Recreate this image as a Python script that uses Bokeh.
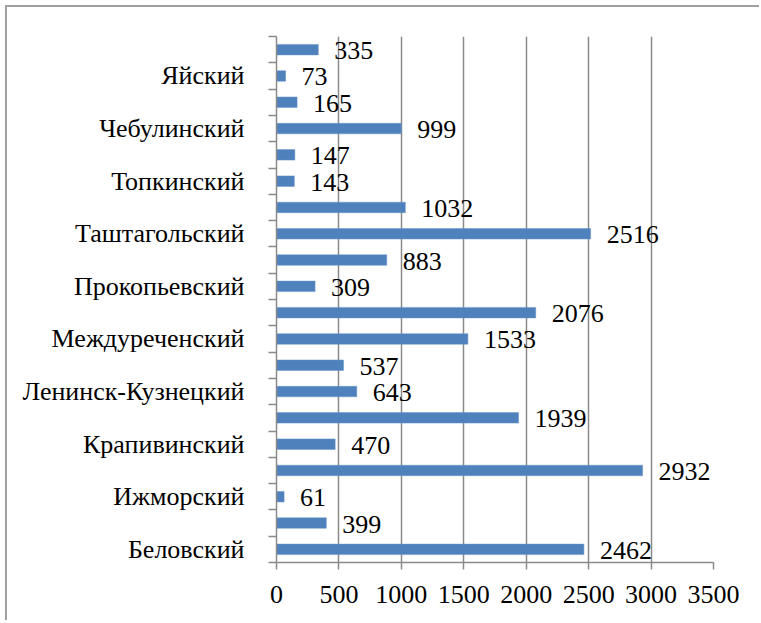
from bokeh.plotting import figure
from bokeh.models import FixedTicker, ColumnDataSource
from bokeh.core.properties import value
from bokeh.embed import file_html
from bokeh.resources import INLINE

# Data (bottom to top)
districts = ["Беловский", "Гурьевский", "Ижморский", "Кемеровский", "Крапивинский",
             "Кузнецкий", "Ленинск-Кузнецкий", "Мариинский", "Междуреченский", "Новокузнецкий",
             "Прокопьевский", "Промышленновский", "Таштагольский", "Тисульский", "Топкинский",
             "Тяжинский", "Чебулинский", "Юргинский", "Яйский", "Яшкинский"]
values = [2462, 399, 61, 2932, 470, 1939, 643, 537, 1533, 2076,
          309, 883, 2516, 1032, 143, 147, 999, 165, 73, 335]
x_ticks = [0, 500, 1000, 1500, 2000, 2500, 3000, 3500]

FONT = "'Liberation Serif', 'Times New Roman', serif"
GRAY = "#8a8a8a"

n = len(districts)
centers = [i + 0.5 for i in range(n)]
src = ColumnDataSource(dict(y=centers, v=values, lab=[str(v) for v in values], name=districts))

p = figure(width=754, height=615, x_range=(0, 3500), y_range=(0, n),
           output_backend="svg", toolbar_location=None,
           min_border_left=269, min_border_right=48, min_border_top=29, min_border_bottom=60)
p.styles = {"margin-left": "7px", "margin-top": "7px",
            "box-shadow": "-2px -2px 0px 0px #a0a0a0"}

p.hbar(y="y", right="v", left=0, height=0.4, source=src,
       fill_color="#4F81BD", line_color="#6a95c8", line_width=0.5)

p.text(x="v", y="y", text="lab", source=src, x_offset=16, y_offset=1,
       text_align="left", text_baseline="middle",
       text_font=value(FONT), text_font_size="26px", text_color="black")

# x axis
p.xaxis.ticker = FixedTicker(ticks=x_ticks)
p.xaxis.axis_line_color = GRAY
p.xaxis.axis_line_width = 1.5
p.xaxis.major_tick_line_color = GRAY
p.xaxis.major_tick_line_width = 1.5
p.xaxis.major_tick_out = 7
p.xaxis.major_tick_in = 0
p.xaxis.minor_tick_line_color = None
p.xaxis.major_label_text_font = FONT
p.xaxis.major_label_text_font_size = "26px"
p.xaxis.major_label_text_color = "black"
p.xaxis.major_label_standoff = 16

# y axis: labels on every other category, tick marks at category boundaries
label_pos = [centers[i] for i in range(0, n, 2)]
p.yaxis.ticker = FixedTicker(ticks=label_pos, minor_ticks=list(range(n + 1)))
p.yaxis.major_label_overrides = {c: districts[i] for i, c in enumerate(centers) if i % 2 == 0}
p.yaxis.axis_line_color = GRAY
p.yaxis.axis_line_width = 1.5
p.yaxis.major_tick_line_color = None
p.yaxis.major_tick_out = 0
p.yaxis.major_tick_in = 0
p.yaxis.minor_tick_line_color = GRAY
p.yaxis.minor_tick_line_width = 1.5
p.yaxis.minor_tick_out = 8
p.yaxis.minor_tick_in = 0
p.yaxis.major_label_text_font = FONT
p.yaxis.major_label_text_font_size = "26px"
p.yaxis.major_label_text_color = "black"
p.yaxis.major_label_standoff = 24

p.xgrid.grid_line_color = GRAY
p.xgrid.grid_line_width = 1.5
p.ygrid.grid_line_color = None
p.outline_line_color = None

open("out.html", "w").write(file_html(p, INLINE))
